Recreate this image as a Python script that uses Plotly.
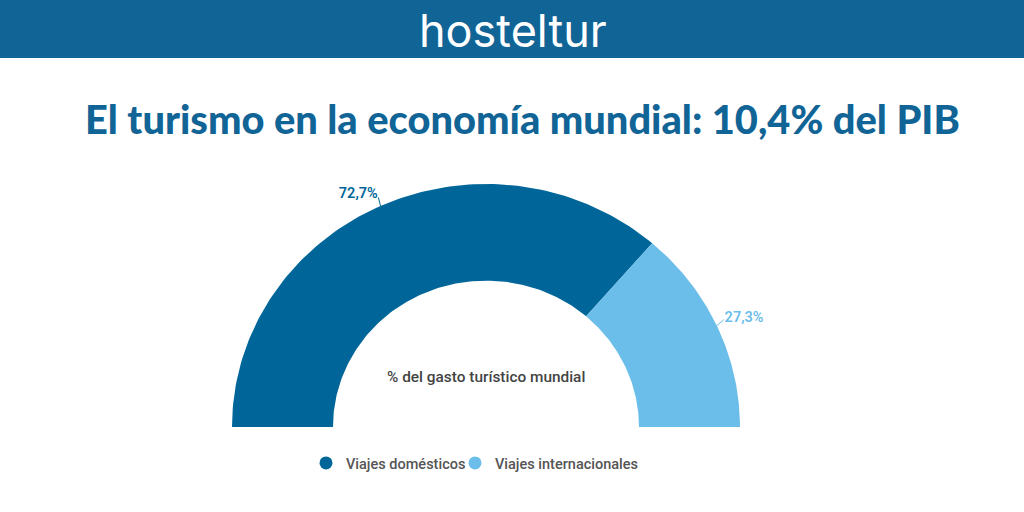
import math
import plotly.graph_objects as go

categories = ["Viajes domésticos", "Viajes internacionales"]
values = [72.7, 27.3]
value_labels = ["72,7%", "27,3%"]
colors = ["#006699", "#6CBEEA"]
title = "El turismo en la economía mundial: 10,4% del PIB"
center_text = "% del gasto turístico mundial"
brand = "hosteltur"

OUTER, INNER = 254, 153
SQUASH = 243 / 254
spans = [v * 1.8 for v in values]
starts = [sum(spans[:i]) for i in range(len(spans))]
mids = [s + w / 2 for s, w in zip(starts, spans)]


def pt(r, deg):
    a = math.radians(deg)
    return -r * math.cos(a), r * math.sin(a)


def ring(start, span, steps=120):
    angles = [start + span * k / steps for k in range(steps + 1)]
    outer = [pt(OUTER, a) for a in angles]
    inner = [pt(INNER, a) for a in reversed(angles)]
    pts = outer + inner + outer[:1]
    return [p[0] for p in pts], [p[1] for p in pts]


legend_ids = ["legend", "legend2"]
leader_shift = [0.4, -0.7]
label_radius = [OUTER + 21, OUTER + 28]
label_shift = [-3.1, 0.8]

fig = go.Figure()
for i, c in enumerate(categories):
    xs, ys = ring(starts[i], spans[i])
    fig.add_trace(go.Scatter(x=xs, y=ys, mode="lines", fill="toself", fillcolor=colors[i],
                             line=dict(width=0, color=colors[i]), showlegend=False, hoverinfo="skip"))
    p0 = pt(OUTER - 1, mids[i])
    p1 = pt(OUTER + 9, mids[i] + leader_shift[i])
    fig.add_trace(go.Scatter(x=[p0[0], p1[0]], y=[p0[1], p1[1]], mode="lines",
                             line=dict(color=colors[i], width=1), showlegend=False, hoverinfo="skip"))
    lp = pt(label_radius[i], mids[i] + label_shift[i])
    fig.add_trace(go.Scatter(x=[lp[0]], y=[lp[1]], mode="text", text=[value_labels[i]],
                             textposition="middle center",
                             textfont=dict(family="Roboto", size=14.5, color=colors[i], weight=600),
                             showlegend=False, hoverinfo="skip"))
    fig.add_trace(go.Scatter(x=[None], y=[None], mode="markers", name=c, legend=legend_ids[i],
                             marker=dict(color=colors[i], size=13, symbol="circle")))

cx, base_y = 486, 85
legend_font = dict(family="Roboto", size=14.5, color="#555555", weight=500)
fig.update_layout(
    width=1024, height=512, margin=dict(l=0, r=0, t=0, b=0),
    paper_bgcolor="white", plot_bgcolor="rgba(0,0,0,0)",
    xaxis=dict(visible=False, range=[-cx, 1024 - cx]),
    yaxis=dict(visible=False, range=[-base_y / SQUASH, (512 - base_y) / SQUASH]),
    legend=dict(orientation="h", x=306 / 1024, xanchor="left", y=49 / 512, yanchor="middle",
                font=legend_font, itemwidth=30, bgcolor="rgba(0,0,0,0)"),
    legend2=dict(orientation="h", x=455 / 1024, xanchor="left", y=49 / 512, yanchor="middle",
                 font=legend_font, itemwidth=30, bgcolor="rgba(0,0,0,0)"),
    shapes=[dict(type="rect", xref="paper", yref="paper", x0=0, x1=1, y0=454 / 512, y1=1,
                 fillcolor="#106496", line=dict(width=0), layer="below")],
    annotations=[
        dict(text=brand, x=513 / 1024, y=482 / 512, xref="paper", yref="paper", showarrow=False,
             xanchor="center", yanchor="middle",
             font=dict(family="Inter", size=45, color="white", weight=400)),
        dict(text=title, x=522 / 1024, y=394 / 512, xref="paper", yref="paper", showarrow=False,
             xanchor="center", yanchor="middle",
             font=dict(family="Lato", size=39.8, color="#106496", weight=900)),
        dict(text=center_text, x=486 / 1024, y=135 / 512, xref="paper", yref="paper", showarrow=False,
             xanchor="center", yanchor="middle",
             font=dict(family="Roboto", size=15.4, color="#444444", weight=500)),
    ],
)
fig.write_html("out.html", config=dict(displayModeBar=False),
               post_script="document.body.style.margin='0';window.dispatchEvent(new Event('resize'));")
